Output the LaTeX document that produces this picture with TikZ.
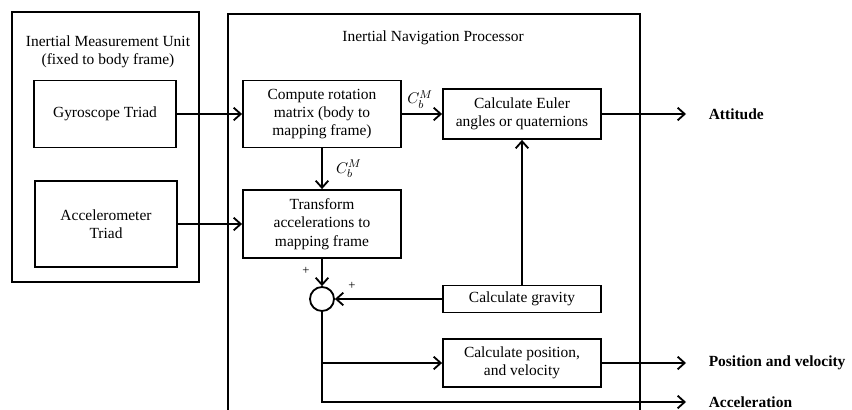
\documentclass[tikz,border=0pt]{standalone}
\usepackage{fontspec}
\setmainfont{Liberation Serif}
\usetikzlibrary{arrows.meta}

\begin{document}
\begin{tikzpicture}
	[x=0.025cm, y=-0.025cm,
	every node/.style={font=\fontsize{11}{13}\selectfont},
	block/.style={draw, line width=1.3pt, align=center, inner sep=1pt,
		minimum width=3.95cm},
	frame/.style={draw, line width=1.6pt},
	flow/.style={line width=1.3pt,
		-{Straight Barb[length=5pt,width=9pt]}},
	result/.style={font=\fontsize{11}{13}\selectfont\bfseries, anchor=west,
		inner xsep=16pt}]
	\useasboundingbox (0,0) rectangle (852,409);
	\clip (0,0) rectangle (852,409);
	% the two units
	\draw[frame] (12,12) rectangle (199,282);
	\draw[frame] (228,14) rectangle (640,440);
	\node[align=center] (imu) at (108,52) {Inertial Measurement Unit\\(fixed to body frame)};
	\node (inp) at (433,38) {Inertial Navigation Processor};
	% sensors
	\node[block, minimum width=3.55cm, minimum height=1.675cm] (gyro) at (105,114) {Gyroscope Triad};
	\node[block, minimum width=3.55cm, minimum height=2.15cm] (accel) at (106,224) {Accelerometer\\Triad};
	% processing
	\node[block, minimum height=1.675cm] (rot) at (322,114) {Compute rotation\\matrix (body to\\mapping frame)};
	\node[block, minimum height=1.7cm] (trans) at (322,224) {Transform\\accelerations to\\mapping frame};
	\node[block, minimum height=1.25cm] (euler) at (522,114) {Calculate Euler\\angles or quaternions};
	\node[block, minimum height=0.675cm] (grav) at (522,299) {Calculate gravity};
	\node[block, minimum height=1.2cm] (pos) at (522,363) {Calculate position,\\and velocity};
	\node[draw, circle, line width=1.3pt, minimum size=0.6cm, inner sep=0pt] (sum) at (322,299) {};
	% outputs
	\node[result] (att) at (686,114) {Attitude};
	\node[result] (pv) at (686,363) {Position and velocity};
	\node[result] (acc) at (686,402) {Acceleration};
	% connections
	\draw[flow] (gyro) -- (rot);
	\draw[flow] (accel) -- (trans);
	\draw[flow] (rot) -- node[above, pos=0.45] {$C_b^M$} (euler);
	\draw[flow] (rot) -- node[right, xshift=6pt] {$C_b^M$} (trans);
	\draw[flow] (trans) -- (sum);
	\draw[flow] (grav) -- (sum);
	\draw[flow] (grav) -- (euler);
	\node[font=\small] (plusa) at (306,271) {+};
	\node[font=\small] (plusb) at (352,286) {+};
	\draw[flow] (euler.east) -- (att.west);
	\draw[flow] (pos.east) -- (pv.west);
	\draw[flow] (sum.south |- pos.west) -- (pos.west);
	\draw[flow] (sum.south) |- (acc.west);
\end{tikzpicture}
\end{document}
